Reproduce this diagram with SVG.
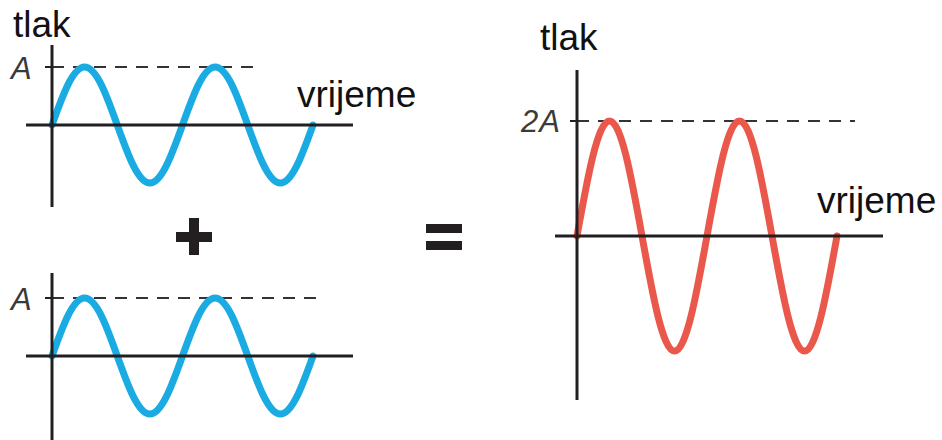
<svg xmlns="http://www.w3.org/2000/svg" width="942" height="440" viewBox="0 0 942 440">
<style>
.axis{stroke:#231f20;stroke-width:3;fill:none}
.tick{stroke:#231f20;stroke-width:2;fill:none}
.dash{stroke:#333;stroke-width:1.8;stroke-dasharray:12 9;fill:none}
.blue{stroke:#1aabe3;stroke-width:7;fill:none;stroke-linecap:round}
.red{stroke:#e9584b;stroke-width:7;fill:none;stroke-linecap:round}
.lbl{font-family:"Liberation Sans",Arial,sans-serif;font-size:37px;fill:#111}
.amp{font-family:"Liberation Sans",Arial,sans-serif;font-size:31px;font-style:italic;fill:#3a3a3a}
.op{fill:#231f20}
</style>
<rect width="942" height="440" fill="#fff"/>
<g id="graph-top">
<text class="lbl" x="13" y="37">tlak</text>
<text class="lbl" x="297" y="107">vrijeme</text>
<text class="amp" x="11" y="79">A</text>
<line class="dash" x1="52" y1="67" x2="260" y2="67"/>
<path class="blue" d="M52,125 c10.64,-29.71 20.82,-58 32.625,-58 s21.985,28.29 32.625,58 s20.82,58 32.625,58 s21.985,-28.29 32.625,-58 s20.82,-58 32.625,-58 s21.985,28.29 32.625,58 s20.82,58 32.625,58 s21.985,-28.29 32.625,-58"/>
<line class="axis" x1="52" y1="45" x2="52" y2="207"/>
<line class="axis" x1="26" y1="125" x2="353" y2="125"/>
<line class="tick" x1="45" y1="67" x2="52" y2="67"/>
</g>
<g id="graph-bottom">
<text class="amp" x="11" y="310">A</text>
<line class="dash" x1="52" y1="298" x2="325" y2="298"/>
<path class="blue" d="M52,356 c10.64,-29.71 20.82,-58 32.625,-58 s21.985,28.29 32.625,58 s20.82,58 32.625,58 s21.985,-28.29 32.625,-58 s20.82,-58 32.625,-58 s21.985,28.29 32.625,58 s20.82,58 32.625,58 s21.985,-28.29 32.625,-58"/>
<line class="axis" x1="52" y1="273" x2="52" y2="440"/>
<line class="axis" x1="26" y1="356" x2="353" y2="356"/>
<line class="tick" x1="45" y1="298" x2="52" y2="298"/>
</g>
<g id="plus">
<rect class="op" x="176" y="232" width="36" height="10"/>
<rect class="op" x="189" y="218" width="10" height="37"/>
</g>
<g id="equals">
<rect class="op" x="426" y="224" width="36" height="9"/>
<rect class="op" x="426" y="241" width="36" height="9"/>
</g>
<g id="graph-sum">
<text class="lbl" x="540" y="50">tlak</text>
<text class="lbl" x="817" y="213">vrijeme</text>
<text class="amp" x="521" y="132" letter-spacing="1">2A</text>
<line class="dash" x1="577" y1="121" x2="855" y2="121"/>
<path class="red" d="M577,236 c10.6,-58.91 20.74,-115 32.5,-115 s21.9,56.09 32.5,115 s20.74,115 32.5,115 s21.9,-56.09 32.5,-115 s20.74,-115 32.5,-115 s21.9,56.09 32.5,115 s20.74,115 32.5,115 s21.9,-56.09 32.5,-115"/>
<line class="axis" x1="577" y1="70" x2="577" y2="400"/>
<line class="axis" x1="555" y1="236" x2="883" y2="236"/>
<line class="tick" x1="570" y1="121" x2="577" y2="121"/>
</g>
</svg>
